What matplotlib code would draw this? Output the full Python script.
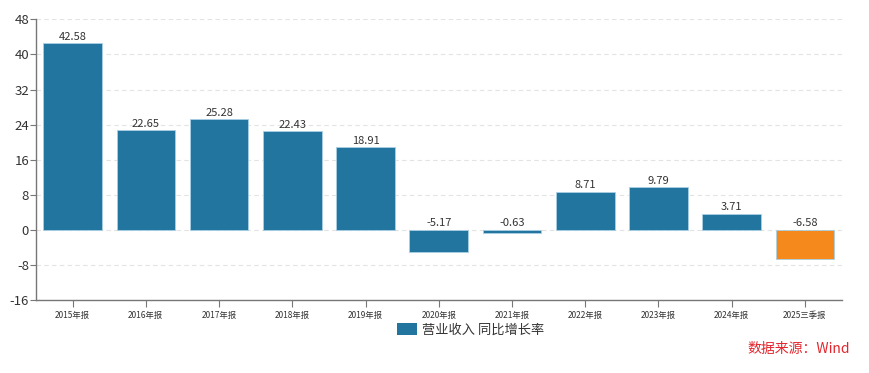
import numpy as np
import matplotlib
matplotlib.use("Agg")
import matplotlib.pyplot as plt
from matplotlib.patches import Patch

plt.rcParams['font.family'] = ['Noto Sans CJK SC', 'DejaVu Sans']

# data
periods = ["2015年报", "2016年报", "2017年报", "2018年报", "2019年报", "2020年报",
           "2021年报", "2022年报", "2023年报", "2024年报", "2025三季报"]
growth = [42.58, 22.65, 25.28, 22.43, 18.91, -5.17, -0.63, 8.71, 9.79, 3.71, -6.58]
yticks = [-16, -8, 0, 8, 16, 24, 32, 40, 48]

blue = "#21759f"
orange = "#f5891b"
colors = [blue] * (len(growth) - 1) + [orange]

fig = plt.figure(figsize=(8.69, 3.73), dpi=100)
ax = fig.add_axes([0.0414, 0.196, 0.927, 0.752])

x = np.arange(len(periods))
ax.bar(x, growth, width=0.8, color=colors, edgecolor="#a9cfe3", linewidth=0.6, zorder=3)

for xi, v in zip(x, growth):
    ax.text(xi, max(v, 0) + 0.3, f"{v:.2f}", ha="center", va="bottom",
            fontsize=8, color="#333333", zorder=4)

ax.set_xlim(-0.5, len(periods) - 0.5)
ax.set_ylim(-16, 48)
ax.set_yticks(yticks)
ax.set_yticklabels([str(t) for t in yticks], fontsize=9.5, color="#333333")
ax.set_xticks(x)
ax.set_xticklabels(periods, fontsize=6, color="#333333")

ax.grid(axis="y", linestyle=(0, (4, 3)), color="#e3e3e3", linewidth=0.8, zorder=0)
for s in ["top", "right"]:
    ax.spines[s].set_visible(False)
for s in ["left", "bottom"]:
    ax.spines[s].set_color("#777777")
    ax.spines[s].set_linewidth(1.0)
ax.tick_params(axis="y", length=4, color="#777777", pad=1)
ax.tick_params(axis="x", length=5, color="#777777", pad=3)

fig.legend(handles=[Patch(facecolor=blue, edgecolor="none")], labels=["营业收入 同比增长率"],
           loc="center", bbox_to_anchor=(0.542, 0.115), frameon=False, fontsize=9.5,
           handlelength=1.5, handleheight=1.0, handletextpad=0.4, labelcolor="#333333")

fig.text(0.978, 0.065, "数据来源：Wind", ha="right", va="center", fontsize=10, color="#e3262d")

fig.savefig("out.png", dpi=100)
